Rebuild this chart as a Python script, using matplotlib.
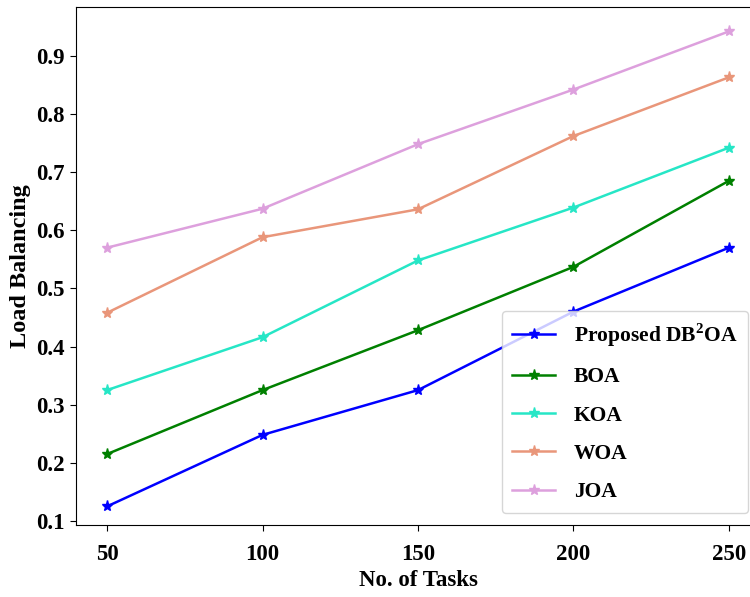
import matplotlib
matplotlib.use("Agg")
import matplotlib.pyplot as plt

plt.rcParams['font.family'] = ['Liberation Serif', 'DejaVu Serif']
plt.rcParams['font.weight'] = 'bold'
plt.rcParams['mathtext.fontset'] = 'custom'
plt.rcParams['mathtext.rm'] = 'Liberation Serif:bold'

# Datos
tasks = [50, 100, 150, 200, 250]
proposed = [0.125, 0.248, 0.325, 0.460, 0.570]
boa = [0.215, 0.325, 0.428, 0.537, 0.685]
koa = [0.325, 0.416, 0.548, 0.639, 0.742]
woa = [0.458, 0.588, 0.636, 0.762, 0.863]
joa = [0.570, 0.637, 0.748, 0.842, 0.942]

series = [
    ("Proposed DB$^{2}$OA", proposed, "blue"),
    ("BOA", boa, "green"),
    ("KOA", koa, "#26e6c6"),
    ("WOA", woa, "darksalmon"),
    ("JOA", joa, "plum"),
]

fig = plt.figure(figsize=(7.5, 5.97), dpi=100)
# el eje derecho queda fuera de la figura (recortado como en la original)
ax = fig.add_axes([0.1013, 0.1206, 0.912, 0.8677])

for name, vals, color in series:
    ax.plot(tasks, vals, color=color, marker="*", markersize=8, linewidth=1.8, label=name)

ax.set_xlim(40, 260)
ax.set_ylim(0.093, 0.984)
ax.set_xticks(tasks)
ax.set_yticks([0.1, 0.2, 0.3, 0.4, 0.5, 0.6, 0.7, 0.8, 0.9])
ax.tick_params(labelsize=16.5, length=4.5)
ax.tick_params(axis="x", pad=9)
for lbl in ax.get_xticklabels() + ax.get_yticklabels():
    lbl.set_fontweight("bold")

ax.set_xlabel("No. of Tasks", fontsize=16.5, fontweight="bold")
ax.set_ylabel("Load Balancing", fontsize=17.5, fontweight="bold")

leg = ax.legend(loc="lower right", fontsize=15.5, borderpad=0.5, labelspacing=0.85,
                handlelength=2.0, handletextpad=0.85, borderaxespad=0.55)

fig.savefig("out.png", dpi=100)
